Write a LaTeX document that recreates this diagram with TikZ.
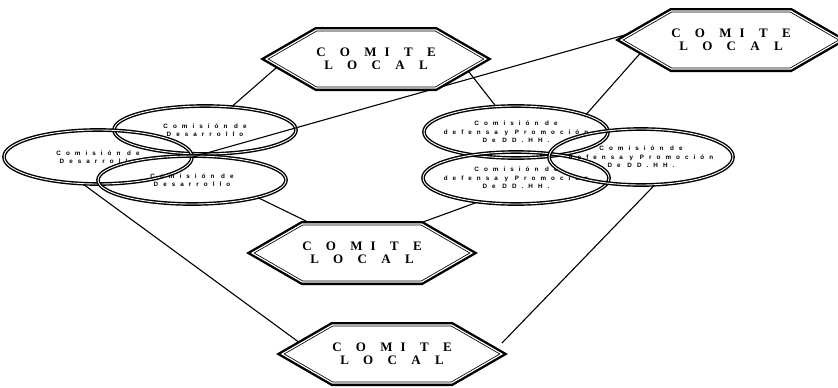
\documentclass[tikz,border=0pt]{standalone}
\usepackage{fontspec}
\setmainfont{Liberation Serif}
\newfontfamily\comfont{Liberation Sans}
\usetikzlibrary{shapes.geometric,shapes.symbols}

\tikzset{
  comite/.style={signal, signal to=east and west, signal pointer angle=60,
    draw, fill=white, line width=0.8pt, double=white, double distance=1.2pt,
    preaction={draw, line width=6pt},
    minimum width=212pt, minimum height=58pt, inner sep=0pt, align=center,
    font=\fontsize{13}{12.5}\selectfont\bfseries\addfontfeature{LetterSpace=110}},
  comision/.style={ellipse, draw, line width=1.4pt, double=white,
    double distance=0.9pt, inner xsep=-25pt, inner ysep=0pt, align=center,
    font=\comfont\fontsize{6.3}{8.5}\selectfont\bfseries\addfontfeature{LetterSpace=80}},
  enlace/.style={line width=1.1pt}
}

\begin{document}
\begin{tikzpicture}[x=1pt, y=-1pt]
  \useasboundingbox (0,0) rectangle (838,388);
  % comisiones
  \node[comision, minimum width=182pt, minimum height=48pt] (e1) at (205,130) {Comisión de\\Desarrollo};
  \node[comision, minimum width=188pt, minimum height=54pt] (e2) at (98,157) {Comisión de\\Desarrollo};
  \node[comision, minimum width=188pt, minimum height=48pt] (e3) at (192,180) {Comisión de\\Desarrollo};
  \node[comision, minimum width=184pt, minimum height=52pt] (e4) at (516,132) {Comisión de\\defensa y Promoción\\De DD.HH.};
  \node[comision, minimum width=186pt, minimum height=52pt] (e5) at (516,178) {Comisión de\\defensa y Promoción\\De DD.HH.};
  \node[comision, minimum width=184pt, minimum height=56pt] (e6) at (641,157) {Comisión de\\defensa y Promoción\\De DD.HH.};

  % enlaces
  \draw[enlace] (376,59) ++(211:62) coordinate (a1) -- (e1);
  \draw[enlace] (376,59) ++(-29:66) coordinate (a2) -- (e4);
  \draw[enlace] (731,40) ++(185:95) coordinate (a3) -- (e2.east);
  \draw[enlace] (731,40) ++(212:60) coordinate (a4) -- (e4.14);
  \draw[enlace] (e2.242) -- (300,343);
  \draw[enlace] (e3.-15) -- (308,222);
  \draw[enlace] (e5.212) -- (423,222);
  \draw[enlace] (e6.-65) -- (502,343);

  % comites
  \node[comite] (h1) at (376,59) {COM\hspace{8pt}ITE\\LOCAL};
  \node[comite, minimum width=207pt] (h2) at (731,40) {COM\hspace{8pt}ITE\\LOCAL};
  \node[comite] (h3) at (362,253) {COM\hspace{8pt}ITE\\LOCAL};
  \node[comite, minimum width=215pt] (h4) at (392,354) {COM\hspace{8pt}ITE\\LOCAL};
\end{tikzpicture}
\end{document}
